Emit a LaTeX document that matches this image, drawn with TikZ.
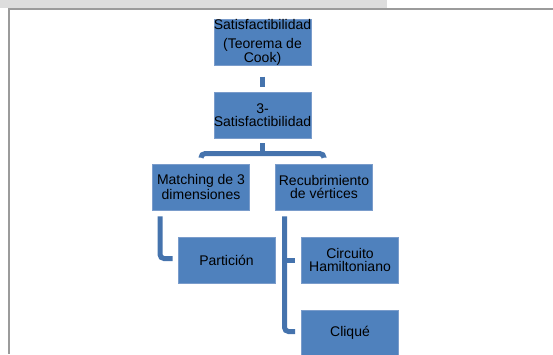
\documentclass[tikz,border=0pt]{standalone}
\usepackage{fontspec}
\setmainfont{Liberation Sans}
\usetikzlibrary{calc}
\definecolor{boxblue}{HTML}{4F81BD}
\definecolor{boxedge}{HTML}{7A9CCB}
\definecolor{linkblue}{HTML}{4573AD}
\definecolor{framegrey}{HTML}{9B9B9B}
\definecolor{stripgrey}{HTML}{DDDDDD}
\begin{document}
\begin{tikzpicture}[x=1pt,y=-1pt,
  blk/.style={rectangle, fill=boxblue, draw=boxedge, line width=0.6pt,
    minimum width=97pt, minimum height=46pt, inner sep=0pt, align=center,
    font=\fontsize{14}{12.8}\selectfont, text=black},
  link/.style={draw=linkblue, line width=5pt, rounded corners=4pt}]
\clip (0,0) rectangle (553,354);
\fill[stripgrey] (0,0) rectangle (386.7,8);
\draw[framegrey, line width=2pt] (553,9) -- (9,9) -- (9,354);

\node[blk, minimum height=45pt] (b1) at (262.5,42.5) {Satisfactibilidad\\[6pt](Teorema de\\Cook)};
\node[blk] (b2) at (262.5,114.8) {3-\\Satisfactibilidad};
\node[blk] (m) at (201,187) {Matching de 3\\dimensiones};
\node[blk] (r) at (324,187) {Recubrimiento\\de vértices};
\node[blk] (p) at (226.5,260) {Partición};
\node[blk] (c) at (350,260) {Circuito\\Hamiltoniano};
\node[blk] (q) at (350,333) {Cliqué};

\draw[link] ($(b1.south)+(0,11)$) -- ($(b2.north)+(0,-5)$);
\coordinate (bar) at ($(b2.south)+(0,15.5)$);
\draw[link] ($(b2.south)+(0,5)$) -- (bar);
\draw[link] ($(m.north)+(0,-6)$) |- (bar) -| ($(r.north)+(0,-6)$);
\draw[link] ($(m.south)+(-41,6)$) |- ($(p.west)+(-5,-1.5)$);
\coordinate (rv) at ($(r.south)+(-39.5,6)$);
\draw[link] (rv) |- ($(q.west)+(-6,-1.5)$);
\draw[link] (rv |- c.west) -- ($(c.west)+(-6,0)$);
\end{tikzpicture}
\end{document}
